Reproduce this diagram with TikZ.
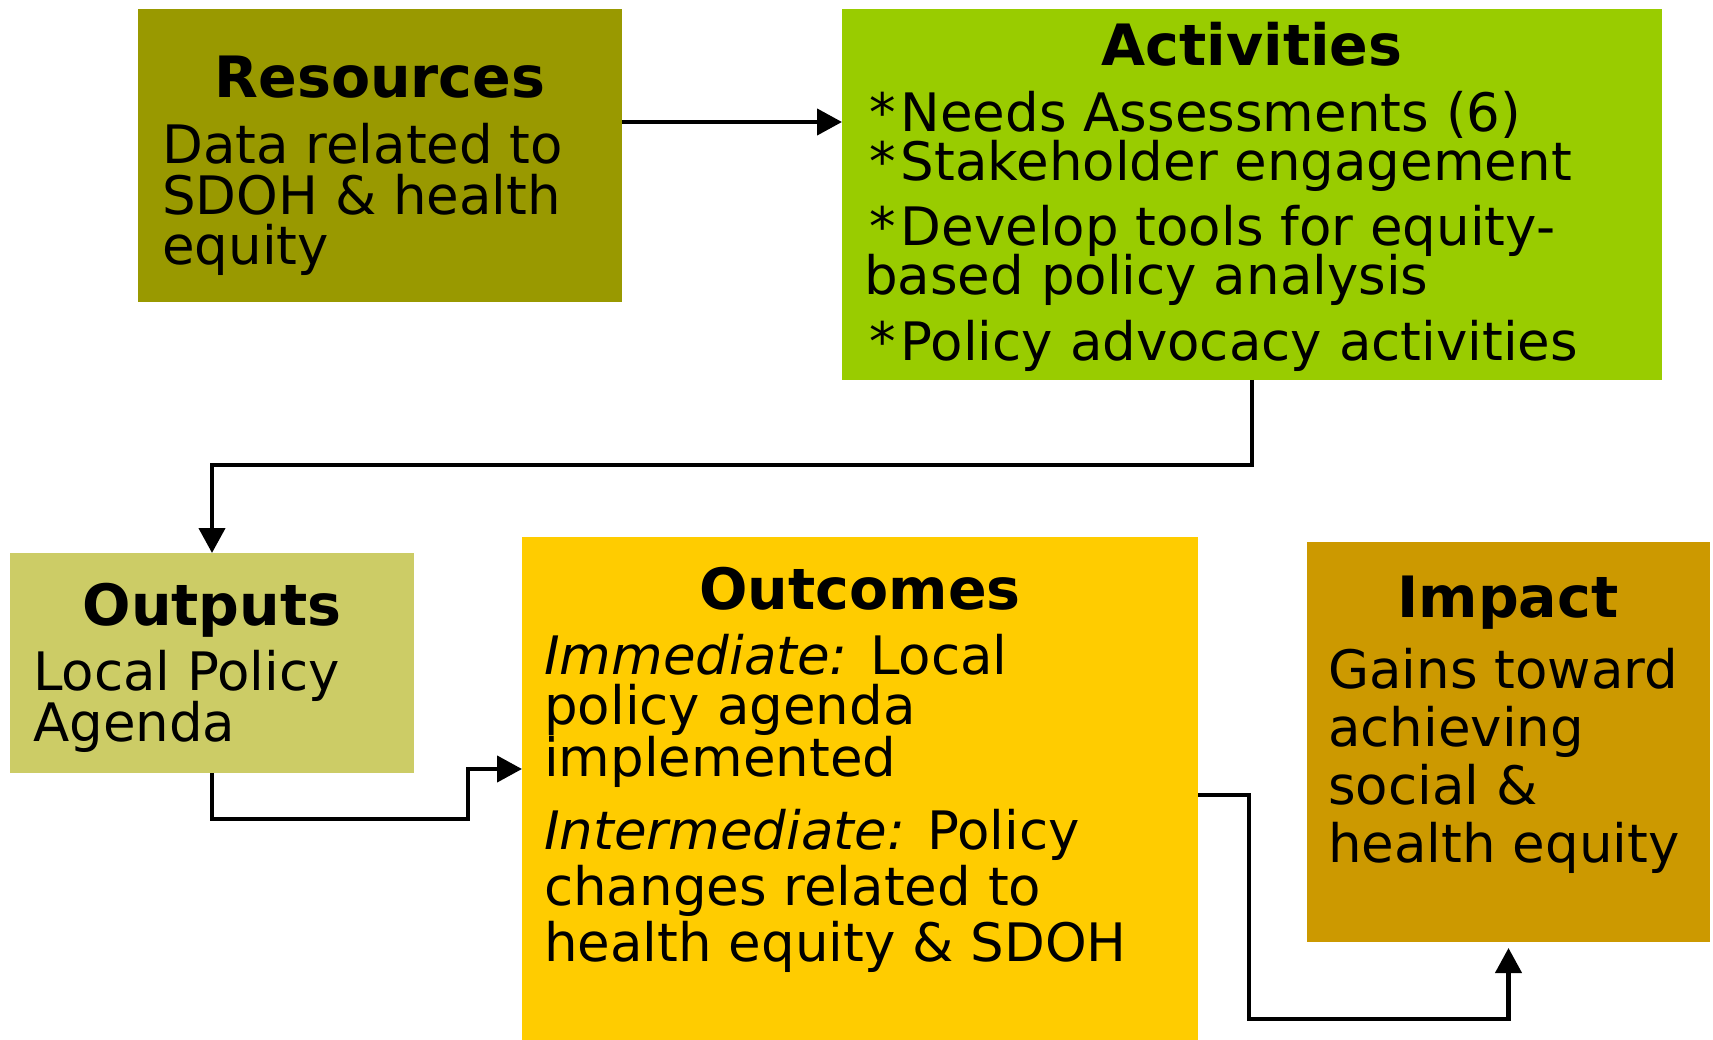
\documentclass[tikz,border=0pt]{standalone}
\usepackage{fontspec}
\setmainfont{DejaVu Sans}
\usetikzlibrary{arrows.meta}
\definecolor{cres}{HTML}{999900}
\definecolor{cact}{HTML}{99CC00}
\definecolor{cout}{HTML}{CCCC66}
\definecolor{coutc}{HTML}{FFCC00}
\definecolor{cimp}{HTML}{CC9900}
\newcommand{\bul}{*\hspace{5pt}}
\begin{document}
\begin{tikzpicture}[x=1pt,y=-1pt,
  box/.style={draw=none,inner sep=0pt,outer sep=0pt},
  ttl/.style={font=\fontsize{57}{60}\selectfont\bfseries,anchor=base,inner sep=0pt},
  txt/.style={font=\fontsize{53}{56}\selectfont,anchor=base west,inner sep=0pt},
  arr/.style={line width=4.3pt,-{Triangle[length=25pt,width=26pt]}}]
\useasboundingbox (0,0) rectangle (1713,1040);
\fill[white] (0,0) rectangle (1713,1040);
% boxes
\node[box,fill=cres,minimum width=484pt,minimum height=293pt] (res) at (380,155.5) {};
\node[box,fill=cact,minimum width=820pt,minimum height=371pt] (act) at (1252,194.5) {};
\node[box,fill=cout,minimum width=404pt,minimum height=220pt] (out) at (212,663) {};
\node[box,fill=coutc,minimum width=676pt,minimum height=503pt] (outc) at (860,788.5) {};
\node[box,fill=cimp,minimum width=403pt,minimum height=400pt] (imp) at (1508.5,742) {};
% Resources
\node[ttl] (rest) at (380,98) {Resources};
\node[txt] (res1) at (162,164) {Data related to};
\node[txt] (res2) at (162,215) {SDOH \& health};
\node[txt] (res3) at (162,265) {equity};
% Activities
\node[ttl] (actt) at (1252,66) {Activities};
\node[txt] (act1) at (869,132) {\bul Needs Assessments (6)};
\node[txt] (act2) at (869,181) {\bul Stakeholder engagement};
\node[txt] (act3) at (869,246) {\bul Develop tools for equity-};
\node[txt] (act4) at (864,295) {based policy analysis};
\node[txt] (act5) at (869,361) {\bul Policy advocacy activities};
% Outputs
\node[ttl] (outt) at (212,625) {Outputs};
\node[txt] (out1) at (33,690) {Local Policy};
\node[txt] (out2) at (33,741) {Agenda};
% Outcomes
\node[ttl] (outct) at (860,609) {Outcomes};
\node[txt] (oc1) at (544,674) {\textit{Immediate:} Local};
\node[txt] (oc2) at (544,724) {policy agenda};
\node[txt] (oc3) at (544,776) {implemented};
\node[txt] (oc4) at (544,849) {\textit{Intermediate:} Policy};
\node[txt] (oc5) at (544,905) {changes related to};
\node[txt] (oc6) at (544,961) {health equity \& SDOH};
% Impact
\node[ttl] (impt) at (1508,617) {Impact};
\node[txt] (im1) at (1328,688) {Gains toward};
\node[txt] (im2) at (1328,746) {achieving};
\node[txt] (im3) at (1328,804) {social \&};
\node[txt] (im4) at (1328,862) {health equity};
% connectors
\draw[arr] ([yshift=33.5pt]res.east) -- ([yshift=33.5pt]res.east -| act.west);
\draw[arr] (act.south) -- (act.south |- 0,465) -| (out.north);
\draw[arr] (out.south) |- (468,819) |- (outc.west |- 0,769);
\draw[arr,shorten >=6pt] ([yshift=-6.5pt]outc.east) -| (1249,1019) -| (imp.south);
\end{tikzpicture}
\end{document}
